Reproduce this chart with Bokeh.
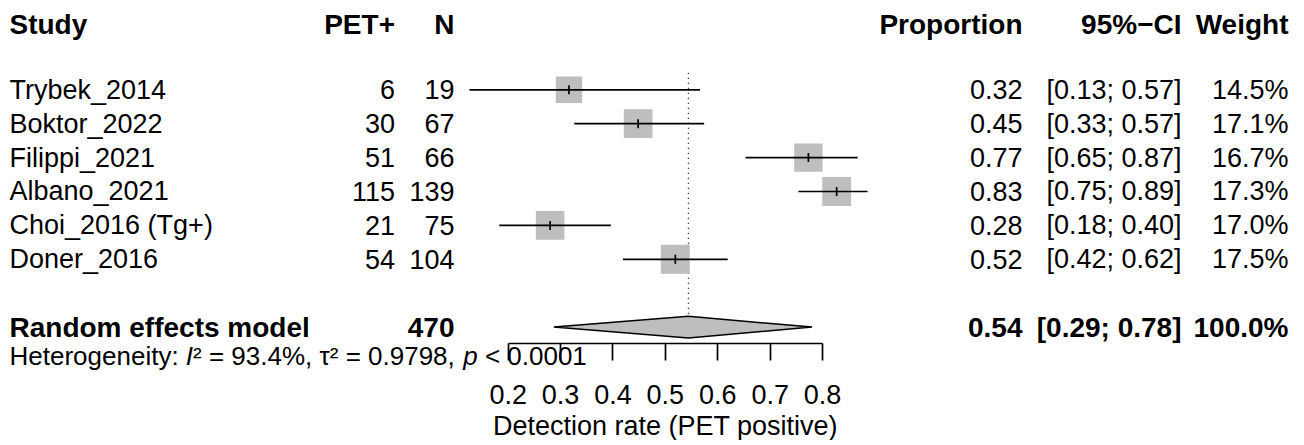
import math
from bokeh.plotting import figure
from bokeh.models import Range1d, LinearAxis, FixedTicker, ColumnDataSource, LabelSet, Label
from bokeh.embed import file_html
from bokeh.resources import INLINE
from bokeh.core.properties import value

# ---------------- data ----------------
studies = ["Trybek_2014", "Boktor_2022", "Filippi_2021", "Albano_2021", "Choi_2016 (Tg+)", "Doner_2016"]
events = [6, 30, 51, 115, 21, 54]
totals = [19, 67, 66, 139, 75, 104]
proportion = [0.316, 0.448, 0.773, 0.827, 0.280, 0.519]
ci_lower = [0.126, 0.326, 0.653, 0.754, 0.183, 0.419]
ci_upper = [0.566, 0.574, 0.867, 0.886, 0.396, 0.619]
weights = [14.5, 17.1, 16.7, 17.3, 17.0, 17.5]

re_label = "Random effects model"
re_total = 470
re_est = 0.544
re_lower = 0.287
re_upper = 0.780
re_weight = 100.0

het_I2 = "93.4%"
het_tau2 = "0.9798"
het_p = "< 0.0001"

ticks = [0.2, 0.3, 0.4, 0.5, 0.6, 0.7, 0.8]
axis_title = "Detection rate (PET positive)"
headers = ["Study", "PET+", "N", "Proportion", "95%\u2212CI", "Weight"]

# ---------------- layout constants ----------------
FONT = "Liberation Sans"
FS = 27
FSB = 28
FSH = 26
GRAY = "#BEBEBE"
W, H = 1296, 440
rows = [1, 2, 3, 4, 5, 6]
re_row = 8
header_row = -0.94
het_row = 8.867
axis_row = 8.475

p = figure(width=W, height=H,
           x_range=Range1d(-0.7691, 1.7047), y_range=Range1d(11.345, -1.634),
           output_backend="svg", toolbar_location=None,
           x_axis_location=None, y_axis_location=None,
           min_border_left=0, min_border_right=0, min_border_top=0, min_border_bottom=0)
p.grid.grid_line_color = None
p.outline_line_color = None
p.background_fill_color = "white"

axis = LinearAxis(ticker=FixedTicker(ticks=ticks), bounds=(0.2, 0.8), axis_label=axis_title,
                  fixed_location=axis_row)
axis.axis_line_width = 1.7
axis.axis_line_color = "black"
axis.major_tick_line_width = 1.7
axis.major_tick_line_color = "black"
axis.major_tick_out = 17
axis.major_tick_in = 0
axis.minor_tick_out = 0
axis.minor_tick_in = 0
axis.major_label_text_font = FONT
axis.major_label_text_font_size = f"{FS}px"
axis.major_label_text_color = "black"
axis.major_label_standoff = 25
axis.axis_label_text_font = FONT
axis.axis_label_text_font_size = f"{FS}px"
axis.axis_label_text_font_style = "normal"
axis.axis_label_text_color = "black"
axis.axis_label_standoff = 3
p.add_layout(axis, "below")

# dotted line at pooled estimate
p.segment(x0=[re_est], x1=[re_est], y0=[0.5], y1=[re_row - 0.33],
          line_color="black", line_width=1.3, line_dash="1 4")

# weight squares
sizes = [6.93 * math.sqrt(w) for w in weights]
p.scatter(x=proportion, y=rows, marker="square", size=sizes, fill_color=GRAY, line_color=None)
# CI lines
p.segment(x0=ci_lower, x1=ci_upper, y0=rows, y1=rows, line_color="black", line_width=1.7)
# point ticks
p.scatter(x=proportion, y=rows, marker="dash", angle=math.pi / 2, size=9,
          line_color="black", line_width=1.7)

# diamond
dh = 0.32
p.patch(x=[re_lower, re_est, re_upper, re_est], y=[re_row, re_row - dh, re_row, re_row + dh],
        fill_color=GRAY, line_color="black", line_width=1.5)

# ---------------- text columns ----------------
def fmt2(v):
    return f"{v:.2f}"

def add_col(texts, ys, xs, align, style="normal"):
    src = ColumnDataSource(dict(x=xs, y=ys, t=texts))
    size = FSB if style == "bold" else FS
    ls = LabelSet(x="x", y="y", text="t", source=src, x_units="screen", y_units="data",
                  text_font=value(FONT), text_font_size=value(f"{size}px"),
                  text_font_style=value(style), text_align=value(align),
                  text_baseline=value("middle"), text_color=value("black"))
    p.add_layout(ls)

X_STUDY, X_EV, X_N, X_PROP, X_CI, X_W = 9, 394.5, 454, 1022, 1181, 1288
n = len(rows)
# header
add_col(headers[:1], [header_row], [X_STUDY], "left", "bold")
add_col(headers[1:], [header_row] * 5, [X_EV, X_N, X_PROP, X_CI, X_W], "right", "bold")
# studies
add_col(studies, rows, [X_STUDY] * n, "left")
add_col([str(e) for e in events], rows, [X_EV] * n, "right")
add_col([str(t) for t in totals], rows, [X_N] * n, "right")
add_col([fmt2(v) for v in proportion], rows, [X_PROP] * n, "right")
add_col([f"[{fmt2(l)}; {fmt2(u)}]" for l, u in zip(ci_lower, ci_upper)], rows, [X_CI] * n, "right")
add_col([f"{w:.1f}%" for w in weights], rows, [X_W] * n, "right")
# pooled row
add_col([re_label], [re_row], [X_STUDY], "left", "bold")
add_col([str(re_total), fmt2(re_est), f"[{fmt2(re_lower)}; {fmt2(re_upper)}]", f"{re_weight:.1f}%"],
        [re_row] * 4, [X_N, X_PROP, X_CI, X_W], "right", "bold")

# heterogeneity line (pieces, to get italics); leading/trailing spaces are
# accounted for in the offsets since SVG text drops them
AW = {' ': 278, ',': 278, '.': 278, ':': 278, '<': 584, '=': 584, '%': 889, 'H': 722, 'I': 278,
      'e': 556, 't': 278, 'r': 333, 'o': 556, 'g': 556, 'n': 556, 'i': 222, 'y': 500, 'p': 556,
      '\u00b2': 333, '\u03c4': 440}
for d in "0123456789":
    AW[d] = 556

def tw(s):
    return sum(AW.get(c, 556) for c in s) * FSH / 1000.0

pieces = [("Heterogeneity: ", "normal"), ("I", "italic"),
          (f"\u00b2 = {het_I2}, \u03c4\u00b2 = {het_tau2}, ", "normal"), ("p", "italic"),
          (f" {het_p}", "normal")]
xcur = X_STUDY
for txt, st in pieces:
    lead = len(txt) - len(txt.lstrip(" "))
    p.add_layout(Label(x=xcur + tw(" " * lead), y=het_row, x_units="screen", y_units="data",
                       text=txt.strip(" "),
                       text_font=FONT, text_font_size=f"{FSH}px", text_font_style=st,
                       text_align="left", text_baseline="middle", text_color="black"))
    xcur += tw(txt)

open("out.html", "w").write(file_html(p, INLINE))
